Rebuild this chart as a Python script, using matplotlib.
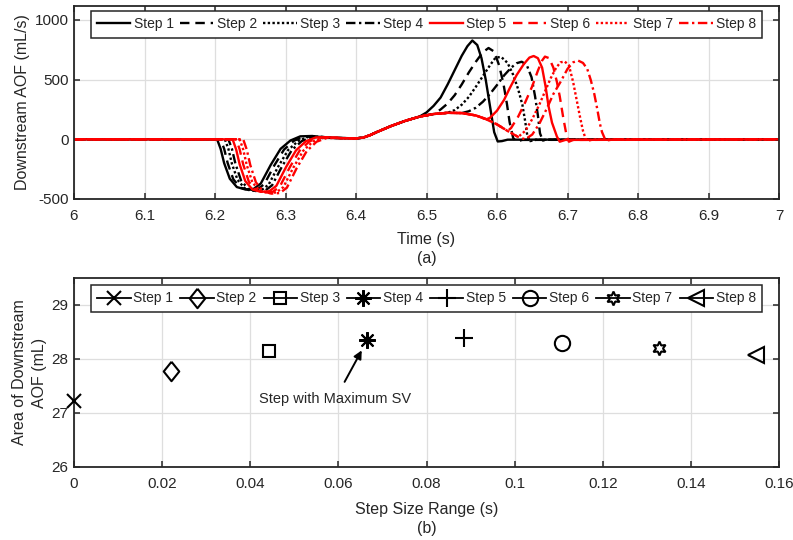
"""
Downstream AOF waveforms per step and area vs step size
"""

import matplotlib
matplotlib.use('Agg')
import matplotlib.pyplot as plt

plt.rcParams['font.family'] = ['Liberation Sans', 'DejaVu Sans']
plt.rcParams['axes.unicode_minus'] = False
plt.rcParams['text.color'] = '#262626'
plt.rcParams['axes.labelcolor'] = '#262626'
plt.rcParams['xtick.color'] = '#262626'
plt.rcParams['ytick.color'] = '#262626'

step_labels = ['Step 1', 'Step 2', 'Step 3', 'Step 4',
               'Step 5', 'Step 6', 'Step 7', 'Step 8']

# --- (a) waveforms: negative dip around 6.2-6.4 s ---
dip_t = [
    [6.203, 6.208, 6.213, 6.221, 6.231, 6.243, 6.255, 6.265, 6.279, 6.293, 6.307, 6.321, 6.338, 6.353],
    [6.208, 6.213, 6.218, 6.226, 6.236, 6.248, 6.260, 6.270, 6.284, 6.298, 6.312, 6.326, 6.343, 6.358],
    [6.214, 6.219, 6.224, 6.232, 6.242, 6.254, 6.266, 6.276, 6.290, 6.304, 6.318, 6.332, 6.349, 6.364],
    [6.219, 6.224, 6.229, 6.237, 6.247, 6.259, 6.271, 6.281, 6.295, 6.309, 6.323, 6.337, 6.354, 6.369],
    [6.225, 6.230, 6.235, 6.243, 6.253, 6.265, 6.277, 6.287, 6.301, 6.315, 6.329, 6.343, 6.360, 6.375],
    [6.230, 6.235, 6.240, 6.248, 6.258, 6.270, 6.282, 6.292, 6.306, 6.320, 6.334, 6.348, 6.365, 6.380],
    [6.235, 6.240, 6.245, 6.253, 6.263, 6.275, 6.287, 6.297, 6.311, 6.325, 6.339, 6.353, 6.370, 6.385],
    [6.240, 6.245, 6.250, 6.258, 6.268, 6.280, 6.292, 6.302, 6.316, 6.330, 6.344, 6.358, 6.375, 6.390],
]
dip_v = [
    [0, -80, -200, -330, -400, -420, -415, -370, -215, -80, -10, 25, 28, 15],
    [0, -80, -200, -335, -405, -425, -420, -375, -220, -85, -12, 22, 25, 14],
    [0, -80, -205, -340, -410, -430, -425, -380, -225, -88, -14, 20, 22, 12],
    [0, -80, -205, -345, -415, -435, -430, -385, -228, -90, -15, 18, 20, 11],
    [0, -85, -210, -350, -420, -440, -435, -390, -230, -92, -16, 16, 18, 10],
    [0, -85, -210, -355, -425, -445, -440, -395, -235, -95, -17, 14, 16, 9],
    [0, -85, -215, -360, -430, -450, -445, -400, -238, -97, -18, 12, 14, 8],
    [0, -85, -215, -360, -435, -455, -450, -405, -240, -100, -20, 10, 12, 7],
]

# common positive hump that every step follows before its own pulse
hump_t = [6.40, 6.41, 6.42, 6.43, 6.45, 6.47, 6.49, 6.51, 6.53, 6.55, 6.57, 6.585, 6.60, 6.615, 6.63, 6.64]
hump_v = [8, 14, 35, 62, 112, 155, 190, 212, 222, 220, 200, 168, 125, 70, 20, 0]

# pulse of each step
pulse_t = [
    [6.50, 6.51, 6.52, 6.53, 6.54, 6.55, 6.558, 6.565, 6.572, 6.578, 6.584, 6.590, 6.596, 6.601, 6.607, 6.615],
    [6.52, 6.53, 6.54, 6.55, 6.56, 6.57, 6.58, 6.588, 6.596, 6.603, 6.609, 6.614, 6.618, 6.623, 6.628, 6.636],
    [6.54, 6.55, 6.56, 6.57, 6.58, 6.59, 6.598, 6.606, 6.615, 6.623, 6.630, 6.636, 6.640, 6.643, 6.647, 6.655],
    [6.56, 6.57, 6.58, 6.59, 6.60, 6.61, 6.62, 6.628, 6.635, 6.642, 6.649, 6.654, 6.658, 6.661, 6.665, 6.672],
    [6.59, 6.60, 6.61, 6.618, 6.628, 6.638, 6.646, 6.652, 6.658, 6.664, 6.669, 6.673, 6.678, 6.685, 6.689, 6.697],
    [6.62, 6.63, 6.64, 6.65, 6.658, 6.664, 6.668, 6.674, 6.680, 6.685, 6.689, 6.694, 6.699, 6.702, 6.708],
    [6.64, 6.65, 6.66, 6.668, 6.676, 6.684, 6.690, 6.696, 6.702, 6.708, 6.713, 6.718, 6.722, 6.726, 6.729, 6.736],
    [6.65, 6.66, 6.67, 6.68, 6.69, 6.70, 6.708, 6.715, 6.722, 6.728, 6.733, 6.738, 6.742, 6.746, 6.749, 6.753, 6.758, 6.765],
]
pulse_v = [
    [225, 280, 350, 460, 580, 700, 780, 828, 790, 680, 500, 280, 60, -18, -15, -3],
    [250, 300, 370, 460, 560, 650, 730, 765, 735, 620, 470, 300, 140, 10, -18, -5],
    [245, 290, 355, 440, 530, 620, 685, 690, 640, 540, 420, 290, 150, 30, -15, -4],
    [235, 265, 315, 380, 455, 535, 600, 638, 650, 625, 520, 360, 200, 50, -10, -3],
    [180, 240, 330, 428, 540, 630, 685, 698, 680, 600, 440, 280, 140, 23, -20, -5],
    [95, 190, 310, 445, 575, 660, 693, 680, 600, 480, 360, 180, 22, -20, -5],
    [70, 170, 290, 400, 510, 600, 645, 652, 620, 480, 330, 180, 70, 0, -12, -2],
    [40, 130, 250, 380, 480, 590, 645, 660, 640, 590, 497, 380, 260, 130, 60, 5, -8, 0],
]

line_colors = ['k', 'k', 'k', 'k', '#ff0000', '#ff0000', '#ff0000', '#ff0000']
line_styles = ['-', (0, (4, 2.5)), (0, (1, 1)), (0, (4, 1.5, 1, 1.5)),
               '-', (0, (4, 2.5)), (0, (1, 1)), (0, (4, 1.5, 1, 1.5))]

# --- (b) area of downstream AOF ---
step_size = [0, 0.0221, 0.0443, 0.0664, 0.0885, 0.1107, 0.1328, 0.1547]
aof_area = [27.22, 27.78, 28.15, 28.36, 28.38, 28.30, 28.20, 28.07]

# diamond a little taller than wide
diamond = [(0, 1), (0.8, 0), (0, -1), (-0.8, 0), (0, 1)]
markers = ['x', diamond, 's', (8, 2, 0), '+', 'o', (6, 1, 0), '<']
marker_sizes = [10, 14, 9, 12, 13, 11, 10, 11]

W, H = 793, 540
fig = plt.figure(figsize=(W / 100, H / 100), dpi=100)
ax1 = fig.add_axes([74 / W, 1 - 199 / H, 705 / W, 193 / H])
ax2 = fig.add_axes([74 / W, 1 - 467 / H, 705 / W, 189 / H])


def style_axes(ax):
    ax.grid(True, color='#dedede', linewidth=0.9)
    ax.set_axisbelow(True)
    for sp in ax.spines.values():
        sp.set_linewidth(1.3)
        sp.set_color('#262626')
    ax.tick_params(direction='in', top=True, right=True, length=4,
                   width=1.1, labelsize=11)
    ax.tick_params(axis='x', pad=7)
    ax.tick_params(axis='y', pad=4)


for i in range(8):
    t_dip, v_dip = dip_t[i], dip_v[i]
    t_pul, v_pul = pulse_t[i], pulse_v[i]
    mid = [(t, v) for t, v in zip(hump_t, hump_v) if t_dip[-1] < t < t_pul[0]]
    t_all = [6.0] + t_dip + [m[0] for m in mid] + t_pul + [7.0]
    v_all = [0] + v_dip + [m[1] for m in mid] + v_pul + [0]
    ax1.plot(t_all, v_all, color=line_colors[i], linestyle=line_styles[i],
             linewidth=1.7, label=step_labels[i])

ax1.set_xlim(6, 7)
ax1.set_ylim(-500, 1117)
ax1.set_xticks([6 + 0.1 * k for k in range(11)])
ax1.set_xticklabels(['6', '6.1', '6.2', '6.3', '6.4', '6.5', '6.6', '6.7', '6.8', '6.9', '7'])
ax1.set_yticks([-500, 0, 500, 1000])
style_axes(ax1)
ax1.set_xlabel('Time (s)', fontsize=11.5, labelpad=7)
ax1.set_ylabel('Downstream AOF (mL/s)', fontsize=11.5, labelpad=3)
leg1 = ax1.legend(loc='center', bbox_to_anchor=(0.5, 0.905), ncol=8, fontsize=10,
                  handlelength=2.4, handletextpad=0.25, columnspacing=0.45,
                  borderpad=0.45, borderaxespad=0, fancybox=False, framealpha=1)
leg1.get_frame().set_edgecolor('#262626')
leg1.get_frame().set_linewidth(1.1)

for i in range(8):
    ax2.plot([step_size[i]], [aof_area[i]], linestyle='-', color='k',
             marker=markers[i], markersize=marker_sizes[i], markeredgewidth=1.5,
             markerfacecolor='none', markeredgecolor='k', linewidth=1.3,
             label=step_labels[i], clip_on=False, zorder=3)

ax2.set_xlim(0, 0.16)
ax2.set_ylim(26, 29.5)
ax2.set_xticks([0, 0.02, 0.04, 0.06, 0.08, 0.1, 0.12, 0.14, 0.16])
ax2.set_xticklabels(['0', '0.02', '0.04', '0.06', '0.08', '0.1', '0.12', '0.14', '0.16'])
ax2.set_yticks([26, 27, 28, 29])
style_axes(ax2)
ax2.set_xlabel('Step Size Range (s)', fontsize=11.5, labelpad=8)
ax2.set_ylabel('Area of Downstream\nAOF (mL)', fontsize=11.5, labelpad=3, linespacing=1.4)
leg2 = ax2.legend(loc='center', bbox_to_anchor=(0.5, 0.892), ncol=8, fontsize=10,
                  numpoints=1, handlelength=2.4, handletextpad=0.2, columnspacing=0.5,
                  borderpad=0.45, borderaxespad=0, fancybox=False, framealpha=1)
leg2.get_frame().set_edgecolor('#262626')
leg2.get_frame().set_linewidth(1.1)

ax2.annotate('Step with Maximum SV', xy=(0.0653, 28.16), xytext=(0.0593, 27.26),
             ha='center', va='center', fontsize=10.5,
             arrowprops=dict(arrowstyle='-|>', color='k', lw=1.4,
                             mutation_scale=12, shrinkA=6, shrinkB=0))

fig.text(427 / W, 1 - 258 / H, '(a)', ha='center', va='center', fontsize=11.5)
fig.text(427 / W, 1 - 528 / H, '(b)', ha='center', va='center', fontsize=11.5)

fig.savefig('out.png', dpi=100)
